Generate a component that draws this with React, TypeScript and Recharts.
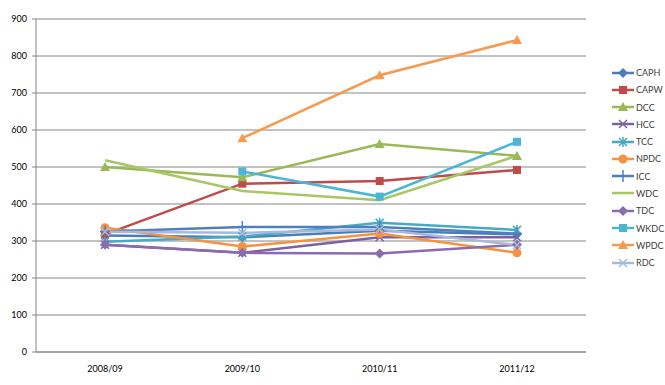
import React from "react";
import { LineChart, Line, CartesianGrid, XAxis, YAxis } from "recharts";

const years = ["2008/09", "2009/10", "2010/11", "2011/12"];

const CAPH = [315, 310, 328, 318];
const CAPW = [318, 455, 462, 492];
const DCC = [500, 472, 562, 530];
const HCC = [290, 268, 310, 310];
const TCC = [298, 312, 349, 330];
const NPDC = [336, 285, 320, 268];
const ICC = [326, 338, 338, 320];
const WDC = [518, 435, 410, 530];
const TDC = [290, 268, 266, 290];
const WKDC = [null, 488, 420, 568];
const WPDC = [null, 578, 748, 843];
const RDC = [325, 322, 331, 289];

const yTicks = [0, 100, 200, 300, 400, 500, 600, 700, 800, 900];

type MarkerKind = "diamond" | "square" | "triangle" | "x" | "star" | "circle" | "plus" | "none";

const SERIES: { name: string; values: (number | null)[]; color: string; marker: MarkerKind }[] = [
    { name: "CAPH", values: CAPH, color: "#4a7ebb", marker: "diamond" },
    { name: "CAPW", values: CAPW, color: "#be4b48", marker: "square" },
    { name: "DCC", values: DCC, color: "#98b954", marker: "triangle" },
    { name: "HCC", values: HCC, color: "#7d60a0", marker: "x" },
    { name: "TCC", values: TCC, color: "#46aac5", marker: "star" },
    { name: "NPDC", values: NPDC, color: "#f69240", marker: "circle" },
    { name: "ICC", values: ICC, color: "#4f7fc0", marker: "plus" },
    { name: "WDC", values: WDC, color: "#a7c765", marker: "none" },
    { name: "TDC", values: TDC, color: "#8a6bb0", marker: "diamond" },
    { name: "WKDC", values: WKDC, color: "#4bb5d6", marker: "square" },
    { name: "WPDC", values: WPDC, color: "#f89a4e", marker: "triangle" },
    { name: "RDC", values: RDC, color: "#a8b8dc", marker: "x" },
];

const rows = years.map((y, i) => {
    const r: Record<string, string | number | null> = { year: y };
    SERIES.forEach((s) => (r[s.name] = s.values[i]));
    return r;
});

function Marker({ cx, cy, kind, color }: { cx: number; cy: number; kind: MarkerKind; color: string }) {
    const s = 4;
    switch (kind) {
        case "diamond":
            return <path d={`M${cx},${cy - s - 1}L${cx + s + 1},${cy}L${cx},${cy + s + 1}L${cx - s - 1},${cy}Z`} fill={color} />;
        case "square":
            return <rect x={cx - s} y={cy - s} width={s * 2} height={s * 2} fill={color} />;
        case "triangle":
            return <path d={`M${cx},${cy - s - 1}L${cx + s + 1},${cy + s}L${cx - s - 1},${cy + s}Z`} fill={color} />;
        case "x":
            return (
                <path d={`M${cx - s},${cy - s}L${cx + s},${cy + s}M${cx - s},${cy + s}L${cx + s},${cy - s}`} stroke={color} strokeWidth={1.5} />
            );
        case "star":
            return (
                <path
                    d={`M${cx - s},${cy - s}L${cx + s},${cy + s}M${cx - s},${cy + s}L${cx + s},${cy - s}M${cx},${cy - s - 1}L${cx},${cy + s + 1}`}
                    stroke={color}
                    strokeWidth={1.5}
                />
            );
        case "circle":
            return <circle cx={cx} cy={cy} r={s + 0.5} fill={color} />;
        case "plus":
            return <path d={`M${cx - s - 1},${cy}L${cx + s + 1},${cy}M${cx},${cy - s - 2}L${cx},${cy + s + 2}`} stroke={color} strokeWidth={1.5} />;
        default:
            return null;
    }
}

const FONT = "Lato, 'Open Sans', sans-serif";

export default function App() {
    return (
        <div style={{ position: "absolute", left: 0, top: 0, width: 665, height: 385, background: "#fff", fontFamily: FONT }}>
            <LineChart width={665} height={385} data={rows} margin={{ top: 19, right: 79, bottom: 3, left: 0 }}>
                <CartesianGrid vertical={false} stroke="#868686" strokeWidth={1} />
                <XAxis
                    dataKey="year"
                    height={30}
                    padding={{ left: 69, right: 69 }}
                    stroke="#868686"
                    tickLine={false}
                    tickMargin={8}
                    tick={{ fontSize: 9, fill: "#000", fontFamily: FONT }}
                />
                <YAxis
                    width={36}
                    domain={[0, 900]}
                    ticks={yTicks}
                    interval={0}
                    stroke="#868686"
                    tickSize={4}
                    tickMargin={5}
                    tick={{ fontSize: 9, fill: "#000", fontFamily: FONT }}
                />
                {SERIES.map((s) => (
                    <Line
                        key={s.name}
                        dataKey={s.name}
                        stroke={s.color}
                        strokeWidth={2.5}
                        isAnimationActive={false}
                        dot={(p: any) => {
                            if (p.cx == null || p.cy == null || p.value == null) return <g key={`${s.name}-${p.index}`} />;
                            return (
                                <g key={`${s.name}-${p.index}`}>
                                    <Marker cx={p.cx} cy={p.cy} kind={s.marker} color={s.color} />
                                </g>
                            );
                        }}
                        activeDot={false}
                    />
                ))}
            </LineChart>
            <div style={{ position: "absolute", left: 612, top: 64 }}>
                {SERIES.map((s) => (
                    <div key={s.name} style={{ display: "flex", alignItems: "center", height: 17.27, fontSize: 9, color: "#404040" }}>
                        <svg width={23} height={12} style={{ marginRight: 1 }}>
                            <line x1={0} y1={6} x2={22} y2={6} stroke={s.color} strokeWidth={2.5} />
                            <Marker cx={11} cy={6} kind={s.marker} color={s.color} />
                        </svg>
                        <span>{s.name}</span>
                    </div>
                ))}
            </div>
        </div>
    );
}
